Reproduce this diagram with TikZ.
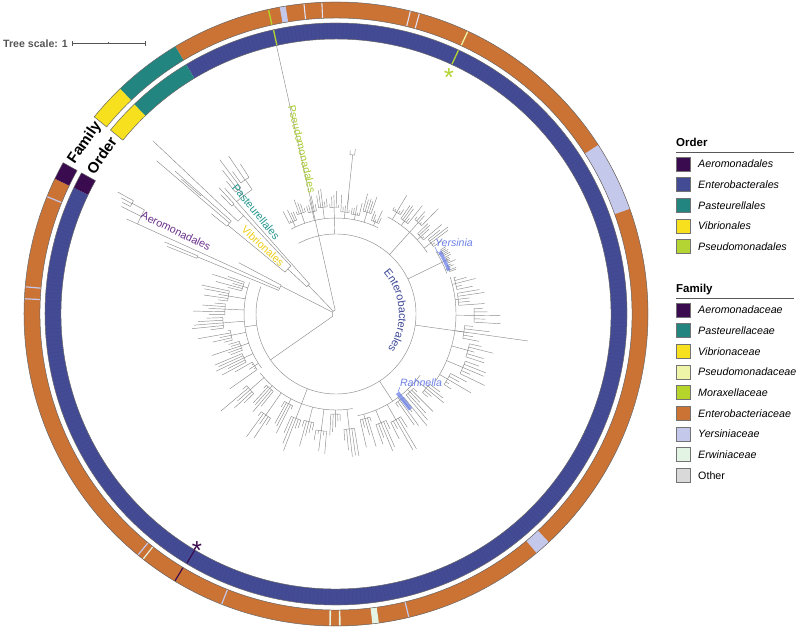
\documentclass[tikz,border=0pt]{standalone}
\usepackage{fontspec}
\setmainfont{Liberation Sans}
\usetikzlibrary{decorations.text,calc}
\definecolor{aer}{HTML}{3B0B4F}
\definecolor{ent}{HTML}{444B95}
\definecolor{pas}{HTML}{23857F}
\definecolor{vib}{HTML}{F7E01E}
\definecolor{pse}{HTML}{B3D433}
\definecolor{psef}{HTML}{EEF4A8}
\definecolor{mor}{HTML}{B5D52A}
\definecolor{entf}{HTML}{CB7235}
\definecolor{yer}{HTML}{C4C8EA}
\definecolor{erw}{HTML}{E4F4E4}
\definecolor{oth}{HTML}{D9D9D9}
\definecolor{treec}{HTML}{8C8C8C}
\definecolor{aerlab}{HTML}{6A2F8A}
\definecolor{paslab}{HTML}{24968C}
\definecolor{viblab}{HTML}{EFCC16}
\definecolor{pselab}{HTML}{A8CB30}
\definecolor{entlab}{HTML}{3F4996}
\definecolor{genlab}{HTML}{6C80E6}
\definecolor{scalec}{HTML}{555555}
\newcommand\ringseg[5]{\fill[#5] (#3:#1) arc[start angle=#3,end angle=#4,radius=#1] -- (#4:#2) arc[start angle=#4,end angle=#3,radius=#2] -- cycle;}
\newcommand\fmark[3]{\draw[#2,line width=#3] (#1:296.3)--(#1:311.7);}
\newcommand\omark[3]{\draw[#2,line width=#3] (#1:275.3)--(#1:290.7);}
% a1 a2 R groups gstem leaf parentR
\newcommand\clade[7]{%
  \pgfmathsetmacro\cm{((#1)+(#2))/2}%
  \draw[tree] (\cm:#7) -- (\cm:#3);
  \draw[tree] (#1:#3) arc[start angle=#1,end angle=#2,radius=#3];
  \foreach \g in {1,...,#4}{%
    \pgfmathsetmacro\ga{(#1)+((#2)-(#1))*(\g-1)/(#4)}%
    \pgfmathsetmacro\gb{(#1)+((#2)-(#1))*(\g)/(#4)}%
    \pgfmathsetmacro\gm{(\ga+\gb)/2}%
    \pgfmathsetmacro\gr{(#3)+3+rnd*(#5)}%
    \pgfmathsetmacro\gaa{\ga+(\gb-\ga)*0.12}%
    \pgfmathsetmacro\gbb{\gb-(\gb-\ga)*0.12}%
    \draw[tree] (\gm:#3) -- (\gm:\gr) (\gaa:\gr) arc[start angle=\gaa,end angle=\gbb,radius=\gr];
    \foreach \k in {0,...,4}{%
      \pgfmathsetmacro\ka{\gaa+(\gbb-\gaa)*\k/4}%
      \pgfmathsetmacro\kr{\gr+2+rnd*(#6)}%
      \draw[tree] (\ka:\gr) -- (\ka:\kr);
    }%
  }%
}
\begin{document}
\begin{tikzpicture}[x=1pt,y=1pt,
  tree/.style={draw=treec,line width=0.45pt},
  ringline/.style={draw=black!60,line width=0.5pt},
  legbox/.style={draw=black!55,line width=0.7pt,minimum width=14pt,minimum height=14pt,inner sep=0pt},
  legtxt/.style={anchor=west,inner sep=0pt,font=\fontsize{10.7}{12}\selectfont\itshape},
  leghead/.style={anchor=base west,inner sep=0pt,font=\fontsize{11.5}{13}\selectfont\bfseries},
  cladelab/.style={inner sep=0pt,font=\fontsize{10.8}{12}\selectfont}]
\useasboundingbox (0,0) rectangle (800,634);
\pgfmathsetseed{4321}
\begin{scope}[shift={(336,320)}]
% ---- family ring (outer)
\ringseg{296}{312}{154.3}{481}{entf}
\ringseg{296}{312}{151}{154.3}{aer}
\ringseg{296}{312}{121}{133.8}{pas}
\ringseg{296}{312}{133.8}{140.8}{vib}
\ringseg{296}{312}{19.7}{32.8}{yer}
\ringseg{296}{312}{310}{313}{yer}
\ringseg{296}{312}{276.7}{277.9}{erw}
\ringseg{296}{312}{99.3}{100.4}{yer}
\fmark{102.5}{mor}{1.3}
\fmark{65}{psef}{1.3}
\fmark{95.9}{yer!50!white}{1.1}
\fmark{92.6}{yer!50!white}{1.1}
\fmark{76.2}{yer!50!white}{1.1}
\fmark{74.5}{yer!50!white}{1.1}
\fmark{157.9}{yer}{1.2}
\fmark{175}{yer}{1.2}
\fmark{177.2}{yer}{1.2}
\fmark{230.6}{yer}{1.2}
\fmark{231.8}{erw}{1.2}
\fmark{238.9}{aer}{1.2}
\fmark{248.5}{yer}{1.2}
\fmark{268.9}{erw}{1.6}
\fmark{270.7}{erw}{1.6}
\fmark{283.5}{yer}{1.2}
\draw[ringline] (151:296) arc[start angle=151,end angle=500.8,radius=296] -- (500.8:312) arc[start angle=500.8,end angle=151,radius=312] -- cycle;
% ---- order ring (inner)
\ringseg{275}{291}{154.3}{481}{ent}
\foreach \a in {155,155.8,...,480}{\draw[black,opacity=0.08,line width=0.25pt] (\a:275.5)--(\a:290.5);}
\ringseg{275}{291}{151}{154.3}{aer}
\ringseg{275}{291}{121}{133.9}{pas}
\ringseg{275}{291}{133.9}{140.8}{vib}
\omark{102.4}{pse}{1.3}
\omark{65.1}{pse}{1.3}
\omark{239.1}{aer}{1.2}
\draw[ringline] (151:275) arc[start angle=151,end angle=500.8,radius=275] -- (500.8:291) arc[start angle=500.8,end angle=151,radius=291] -- cycle;
% ---- labels on ring gap
\node[font=\fontsize{15}{15}\selectfont\bfseries,rotate=55.8,inner sep=0pt] (famlab) at (145.7:304) {Family};
\node[font=\fontsize{15}{15}\selectfont\bfseries,rotate=55.9,inner sep=0pt] (ordlab) at (145.9:283) {Order};
% ---- tree: root
\draw[tree] (102.5:4) arc[start angle=102.5,end angle=215,radius=4];
\draw[tree] (102.5:4) -- (102.5:275);
% Pasteurellales / Vibrionales node
\draw[tree] (134:4) -- (134:40);
\draw[tree] (131.5:40) arc[start angle=131.5,end angle=137,radius=40];
% Pasteurellales
\draw[tree] (131.5:40) -- (131.5:150);
\draw[tree] (124:150) arc[start angle=124,end angle=131.5,radius=150];
\draw[tree] (131.5:150) -- (131.5:168);
\draw[tree] (124:150) -- (124:162) (122.5:162) arc[start angle=122.5,end angle=126,radius=162] (122.5:162)--(122.5:178) (124.2:162)--(124.2:191) (126:162)--(126:176);
\draw[tree] (128:150) -- (128:158) (127:158) arc[start angle=127,end angle=129.5,radius=158] (127:158)--(127:193) (128.3:158)--(128.3:183) (129.5:158)--(129.5:172);
% Vibrionales
\draw[tree] (137:40) -- (137:66);
\draw[tree] (133.2:66) arc[start angle=133.2,end angle=140.6,radius=66];
\draw[tree] (133.2:66) -- (133.2:135) (133.2:135) arc[start angle=133.2,end angle=136.6,radius=135] (136.6:135) -- (136.6:252) (133.2:135) -- (133.2:150) (132.8:150) arc[start angle=132.8,end angle=134,radius=150] (132.8:150)--(132.8:172) (134:150)--(134:166);
\draw[tree] (140.6:66) -- (140.6:140) (138.4:140) arc[start angle=138.4,end angle=141.2,radius=140] (138.4:140)--(138.4:215) (139.5:140)--(139.5:236) (141.2:140)--(141.2:160);
\draw[tree] (138.4:180) -- (138.9:180) -- (138.9:205);
% Aeromonadales
\draw[tree] (153:4) -- (153:62);
\draw[tree] (152.2:62) arc[start angle=152.2,end angle=157.6,radius=62];
\draw[tree] (155.6:62) -- (155.6:218) (151.5:218) arc[start angle=151.5,end angle=155.6,radius=218];
\draw[tree] (151.5:218) -- (151.5:232) (150.8:232) arc[start angle=150.8,end angle=152.4,radius=232] (150.8:232)--(150.8:250) (151.6:232)--(151.6:244) (152.4:232)--(152.4:241);
\draw[tree] (153.4:218) -- (153.4:240) (155.6:218) -- (155.6:230);
\draw[tree] (157.6:62) -- (157.6:150) (157.2:150) arc[start angle=157.2,end angle=158.2,radius=150] (157.2:150)--(157.2:186) (158.2:150)--(158.2:182);
\draw[tree] (152.2:62) -- (152.2:110);
% Enterobacterales
\draw[tree] (215:4) -- (215:80);
\draw[tree] (118:80) arc[start angle=118,end angle=-200,radius=80];
\clade{118}{64}{96}{9}{10}{17}{80}
\clade{62}{34}{110}{5}{12}{22}{80}
\clade{32}{20}{118}{3}{3}{6}{80}
\clade{18}{-34}{120}{7}{16}{26}{80}
\clade{-36}{-78}{104}{6}{28}{36}{80}
\clade{-80}{-142}{96}{9}{26}{38}{80}
\clade{-144}{-200}{92}{8}{22}{32}{80}
\draw[tree] (-8:120) -- (-8:194);
\draw[tree] (84:110) -- (84:160) (83.3:160) arc[start angle=83.3,end angle=85,radius=160] (83.3:160)--(83.3:166) (85:160)--(85:164);
% highlights
\draw[genlab,line width=3.5pt,opacity=0.75] (31:121) arc[start angle=31,end angle=21,radius=121];
\draw[genlab,line width=4pt,opacity=0.75] (-52:100) -- (-52:121);
\path[decorate,decoration={text along path,text={|\fontsize{11}{13}\selectfont\color{entlab}|Enterobacterales},text align=center}] (42:63) arc[start angle=42,end angle=-35,radius=63];
\end{scope}
% ---- clade labels
\node[cladelab,text=pselab,rotate=-76.6] (lpse) at (302,485) {Pseudomonadales};
\node[cladelab,text=paslab,rotate=-50.5] (lpas) at (256,422) {Pasteurellales};
\node[cladelab,text=viblab,rotate=-42.8] (lvib) at (263,388) {Vibrionales};
\node[cladelab,text=aerlab,rotate=-25.9] (laer) at (176,403) {Aeromonadales};
\node[cladelab,text=genlab,font=\fontsize{10.6}{12}\selectfont\itshape] (lyer) at (454,391) {Yersinia};
\node[cladelab,text=genlab,font=\fontsize{10.6}{12}\selectfont\itshape] (lrah) at (421,251) {Rahnella};
\draw[genlab,line width=0.5pt] (lyer.south west) -- (438,381);
\draw[genlab,line width=0.5pt] (lrah.south west) -- (398,242);
% asterisks
\node[anchor=base,inner sep=0pt,text=pse,font=\fontsize{26}{26}\selectfont] (astg) at (449,547) {*};
\node[anchor=base,inner sep=0pt,text=aer,font=\fontsize{26}{26}\selectfont] (astp) at (197,74) {*};
% ---- tree scale
\node[anchor=west,inner sep=0pt,text=scalec,font=\fontsize{10.6}{12}\selectfont\bfseries] (ts) at (3,590.5) {Tree scale: 1};
\coordinate (sb1) at (72,590.5);
\coordinate (sb2) at (145,590.5);
\coordinate (sbm) at (108.5,590.5);
\draw[scalec,line width=0.6pt] (sb1) -- (sb2);
\draw[scalec,line width=0.6pt] ($(sb1)+(0,-2.5)$) -- ($(sb1)+(0,2.5)$) ($(sb2)+(0,-2.5)$) -- ($(sb2)+(0,2.5)$) (sbm) -- ($(sbm)+(0,1.5)$);
% ---- legend: Order
\node[leghead] (ordh) at (676,487) {Order};
\draw[black!65,line width=0.8pt] (676,482) -- (794,482);
\node[legbox,fill=aer] (ob1) at (683,470) {};
\node[legtxt] (ot1) at (698,470) {Aeromonadales};
\node[legbox,fill=ent] (ob2) at (683,449.3) {};
\node[legtxt] (ot2) at (698,449.3) {Enterobacterales};
\node[legbox,fill=pas] (ob3) at (683,428.6) {};
\node[legtxt] (ot3) at (698,428.6) {Pasteurellales};
\node[legbox,fill=vib] (ob4) at (683,408) {};
\node[legtxt] (ot4) at (698,408) {Vibrionales};
\node[legbox,fill=pse] (ob5) at (683,387.2) {};
\node[legtxt] (ot5) at (698,387.2) {Pseudomonadales};
% ---- legend: Family
\node[leghead] (famh) at (676,341) {Family};
\draw[black!65,line width=0.8pt] (676,336) -- (794,336);
\node[legbox,fill=aer] (fb1) at (683,324) {};
\node[legtxt] (ft1) at (698,324) {Aeromonadaceae};
\node[legbox,fill=pas] (fb2) at (683,303.3) {};
\node[legtxt] (ft2) at (698,303.3) {Pasteurellaceae};
\node[legbox,fill=vib] (fb3) at (683,282.6) {};
\node[legtxt] (ft3) at (698,282.6) {Vibrionaceae};
\node[legbox,fill=psef] (fb4) at (683,262) {};
\node[legtxt] (ft4) at (698,262) {Pseudomonadaceae};
\node[legbox,fill=mor] (fb5) at (683,241.3) {};
\node[legtxt] (ft5) at (698,241.3) {Moraxellaceae};
\node[legbox,fill=entf] (fb6) at (683,220.6) {};
\node[legtxt] (ft6) at (698,220.6) {Enterobacteriaceae};
\node[legbox,fill=yer] (fb7) at (683,200) {};
\node[legtxt] (ft7) at (698,200) {Yersiniaceae};
\node[legbox,fill=erw] (fb8) at (683,179.3) {};
\node[legtxt] (ft8) at (698,179.3) {Erwiniaceae};
\node[legbox,fill=oth] (fb9) at (683,158.6) {};
\node[legtxt,font=\fontsize{10.7}{12}\selectfont] (ft9) at (698,158.6) {Other};
\end{tikzpicture}
\end{document}
